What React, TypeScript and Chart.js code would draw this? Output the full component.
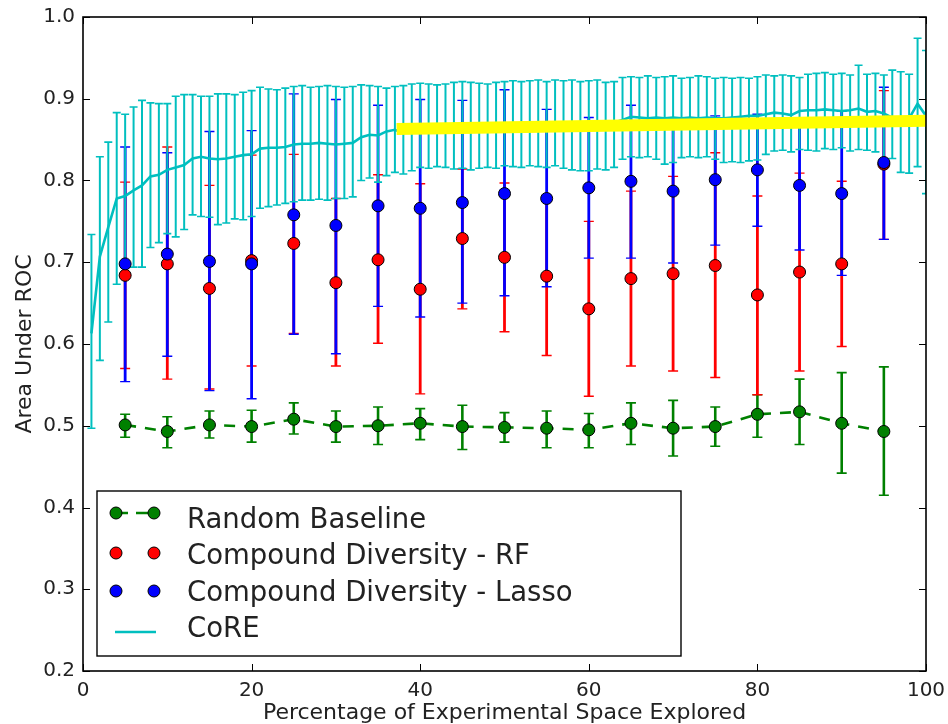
import { useEffect, useRef } from "react";
import { Chart, registerables } from "chart.js";

Chart.register(...registerables);

const FONT = "'DejaVu Sans', 'Liberation Sans', sans-serif";

const sampleX = [5, 10, 15, 20, 25, 30, 35, 40, 45, 50, 55, 60, 65, 70, 75, 80, 85, 90, 95];

const randomMean = [0.501, 0.493, 0.501, 0.499, 0.508, 0.499, 0.5, 0.503, 0.499, 0.498, 0.497, 0.495, 0.503, 0.497, 0.499, 0.514, 0.517, 0.503, 0.493];
const randomHi = [0.514, 0.511, 0.518, 0.519, 0.528, 0.518, 0.523, 0.521, 0.525, 0.516, 0.518, 0.515, 0.528, 0.531, 0.523, 0.538, 0.557, 0.565, 0.572];
const randomLo = [0.486, 0.473, 0.485, 0.48, 0.49, 0.48, 0.477, 0.483, 0.471, 0.48, 0.473, 0.473, 0.477, 0.463, 0.475, 0.486, 0.477, 0.442, 0.415];

const rfMean = [0.684, 0.698, 0.668, 0.702, 0.723, 0.675, 0.703, 0.667, 0.729, 0.706, 0.683, 0.643, 0.68, 0.686, 0.696, 0.66, 0.688, 0.698, 0.82];
const rfHi = [0.798, 0.841, 0.794, 0.831, 0.832, 0.778, 0.807, 0.796, 0.814, 0.797, 0.78, 0.75, 0.787, 0.805, 0.834, 0.781, 0.809, 0.799, 0.91];
const rfLo = [0.57, 0.557, 0.545, 0.573, 0.613, 0.573, 0.601, 0.539, 0.643, 0.615, 0.586, 0.536, 0.573, 0.567, 0.559, 0.538, 0.567, 0.597, 0.728];

const lassoMean = [0.698, 0.71, 0.701, 0.698, 0.758, 0.745, 0.769, 0.766, 0.773, 0.784, 0.778, 0.791, 0.799, 0.787, 0.801, 0.813, 0.794, 0.784, 0.822];
const lassoHi = [0.841, 0.834, 0.86, 0.861, 0.906, 0.899, 0.892, 0.899, 0.898, 0.911, 0.887, 0.877, 0.892, 0.876, 0.879, 0.881, 0.873, 0.885, 0.914];
const lassoLo = [0.554, 0.585, 0.543, 0.533, 0.612, 0.588, 0.646, 0.633, 0.65, 0.659, 0.67, 0.705, 0.705, 0.699, 0.721, 0.744, 0.715, 0.684, 0.728];

const coreX = [
  1, 2, 3, 4, 5, 6, 7, 8, 9, 10, 11, 12, 13, 14, 15, 16, 17, 18, 19, 20,
  21, 22, 23, 24, 25, 26, 27, 28, 29, 30, 31, 32, 33, 34, 35, 36, 37, 38, 39, 40,
  41, 42, 43, 44, 45, 46, 47, 48, 49, 50, 51, 52, 53, 54, 55, 56, 57, 58, 59, 60,
  61, 62, 63, 64, 65, 66, 67, 68, 69, 70, 71, 72, 73, 74, 75, 76, 77, 78, 79, 80,
  81, 82, 83, 84, 85, 86, 87, 88, 89, 90, 91, 92, 93, 94, 95, 96, 97, 98, 99, 100,
];
const coreMean = [
  0.613, 0.707, 0.743, 0.778, 0.781, 0.788, 0.794, 0.805, 0.807, 0.813,
  0.816, 0.819, 0.827, 0.829, 0.827, 0.826, 0.827, 0.829, 0.831, 0.832,
  0.839, 0.84, 0.84, 0.841, 0.844, 0.845, 0.845, 0.846, 0.845, 0.844,
  0.845, 0.846, 0.853, 0.856, 0.855, 0.86, 0.862, 0.858, 0.862, 0.864,
  0.864, 0.865, 0.866, 0.864, 0.866, 0.867, 0.866, 0.867, 0.868, 0.866,
  0.867, 0.868, 0.869, 0.867, 0.868, 0.869, 0.87, 0.868, 0.869, 0.87,
  0.871, 0.87, 0.871, 0.874, 0.878, 0.877, 0.876, 0.877, 0.876, 0.877,
  0.876, 0.877, 0.876, 0.877, 0.876, 0.876, 0.877, 0.878, 0.879, 0.879,
  0.881, 0.883, 0.882, 0.88, 0.885, 0.886, 0.886, 0.887, 0.886, 0.885,
  0.886, 0.888, 0.884, 0.885, 0.882, 0.877, 0.876, 0.876, 0.894, 0.879,
];
const coreHi = [
  0.734, 0.829, 0.847, 0.883, 0.881, 0.89, 0.898, 0.895, 0.894, 0.894,
  0.903, 0.905, 0.905, 0.903, 0.903, 0.906, 0.906, 0.905, 0.908, 0.91,
  0.914, 0.912, 0.911, 0.913, 0.915, 0.916, 0.914, 0.915, 0.916, 0.915,
  0.914, 0.915, 0.917, 0.916, 0.915, 0.913, 0.915, 0.916, 0.918, 0.919,
  0.918, 0.917, 0.918, 0.92, 0.921, 0.92, 0.919, 0.918, 0.92, 0.921,
  0.922, 0.921, 0.922, 0.923, 0.921, 0.923, 0.922, 0.923, 0.921, 0.922,
  0.923, 0.92, 0.921, 0.926, 0.927, 0.926, 0.928, 0.926, 0.927, 0.928,
  0.925, 0.926, 0.928, 0.927, 0.925, 0.926, 0.925, 0.926, 0.925, 0.927,
  0.929, 0.928, 0.929, 0.928, 0.926, 0.93, 0.931, 0.932, 0.93, 0.931,
  0.929, 0.941, 0.93, 0.931, 0.929, 0.935, 0.933, 0.93, 0.974, 0.959,
];
const coreLo = [
  0.497, 0.58, 0.627, 0.673, 0.686, 0.694, 0.694, 0.718, 0.724, 0.735,
  0.731, 0.74, 0.758, 0.756, 0.755, 0.746, 0.748, 0.753, 0.752, 0.756,
  0.766, 0.768, 0.77, 0.772, 0.774, 0.776, 0.776, 0.777, 0.776, 0.778,
  0.778, 0.78, 0.8, 0.803, 0.798, 0.806, 0.81, 0.808, 0.812, 0.816,
  0.815, 0.817, 0.816, 0.814, 0.815, 0.813, 0.815, 0.816, 0.815, 0.818,
  0.817, 0.816, 0.818, 0.817, 0.816, 0.818, 0.815, 0.813, 0.812, 0.812,
  0.814, 0.813, 0.816, 0.826, 0.829, 0.828, 0.829, 0.826, 0.82, 0.822,
  0.828, 0.829, 0.828, 0.829, 0.826, 0.822, 0.823, 0.822, 0.824, 0.825,
  0.832, 0.836, 0.837, 0.835, 0.838, 0.837, 0.836, 0.839, 0.838, 0.84,
  0.836, 0.838, 0.837, 0.835, 0.825, 0.827, 0.81, 0.809, 0.817, 0.784,
];

const highlightX = [37.2, 100];
const highlightY = [0.863, 0.873];

const xTicks = [0, 20, 40, 60, 80, 100];
const yTicks = [0.2, 0.3, 0.4, 0.5, 0.6, 0.7, 0.8, 0.9, 1.0];

const seriesLabels = ["Random Baseline", "Compound Diversity - RF", "Compound Diversity - Lasso", "CoRE"];

const GREEN = "#008000";
const RED = "#ff0000";
const BLUE = "#0000ff";
const CYAN = "#00bfbf";
const YELLOW = "#ffff00";
const TEXT = "#222";

const pts = (xs: number[], ys: number[]) => xs.map((x, i) => ({ x, y: ys[i] }));

export default function App() {
  const ref = useRef<HTMLCanvasElement | null>(null);

  useEffect(() => {
    if (!ref.current) return;

    const drawBars = (chart: any, xs: number[], lo: number[], hi: number[], color: string, lw: number, capHalf: number, capLw: number) => {
      const ctx = chart.ctx;
      const xs_ = chart.scales.x;
      const ys_ = chart.scales.y;
      ctx.save();
      ctx.strokeStyle = color;
      for (let i = 0; i < xs.length; i++) {
        const px = xs_.getPixelForValue(xs[i]);
        const pt = ys_.getPixelForValue(hi[i]);
        const pb = ys_.getPixelForValue(lo[i]);
        ctx.lineWidth = lw;
        ctx.beginPath();
        ctx.moveTo(px, pt);
        ctx.lineTo(px, pb);
        ctx.stroke();
        ctx.lineWidth = capLw;
        ctx.beginPath();
        ctx.moveTo(px - capHalf, pt);
        ctx.lineTo(px + capHalf, pt);
        ctx.moveTo(px - capHalf, pb);
        ctx.lineTo(px + capHalf, pb);
        ctx.stroke();
      }
      ctx.restore();
    };

    const errorBarPlugin = {
      id: "errorBars",
      beforeDatasetsDraw(chart: any) {
        const a = chart.chartArea;
        const ctx = chart.ctx;
        ctx.save();
        ctx.beginPath();
        ctx.rect(a.left, a.top, a.right - a.left, a.bottom - a.top);
        ctx.clip();
        drawBars(chart, sampleX, randomLo, randomHi, GREEN, 2.6, 5, 1.6);
        drawBars(chart, sampleX, rfLo, rfHi, RED, 2.8, 5, 1.4);
        drawBars(chart, sampleX, lassoLo, lassoHi, BLUE, 2.8, 5, 1.4);
        drawBars(chart, coreX, coreLo, coreHi, CYAN, 2, 4, 1.6);
        ctx.restore();
      },
    };

    const framePlugin = {
      id: "frame",
      afterDraw(chart: any) {
        const ctx = chart.ctx;
        const a = chart.chartArea;
        const xs_ = chart.scales.x;
        const ys_ = chart.scales.y;
        ctx.save();
        ctx.strokeStyle = "#000";
        ctx.lineWidth = 1;
        const tl = 7;
        ctx.beginPath();
        for (const v of xTicks) {
          const px = Math.round(xs_.getPixelForValue(v)) + 0.5;
          ctx.moveTo(px, a.bottom);
          ctx.lineTo(px, a.bottom - tl);
          ctx.moveTo(px, a.top);
          ctx.lineTo(px, a.top + tl);
        }
        for (const v of yTicks) {
          const py = Math.round(ys_.getPixelForValue(v)) + 0.5;
          ctx.moveTo(a.left, py);
          ctx.lineTo(a.left + tl, py);
          ctx.moveTo(a.right, py);
          ctx.lineTo(a.right - tl, py);
        }
        ctx.stroke();
        ctx.lineWidth = 1.6;
        ctx.strokeRect(a.left, a.top, a.right - a.left, a.bottom - a.top);

        // legend
        const box = { l: 97, t: 491, r: 681, b: 656 };
        ctx.fillStyle = "#fff";
        ctx.fillRect(box.l, box.t, box.r - box.l, box.b - box.t);
        ctx.lineWidth = 1.4;
        ctx.strokeStyle = "#000";
        ctx.strokeRect(box.l, box.t, box.r - box.l, box.b - box.t);

        const markerRows = [513, 553, 591, 632];
        const textRows = [528, 564, 601, 637];
        const m1 = 116;
        const m2 = 154;
        const dot = (x: number, y: number, c: string) => {
          ctx.beginPath();
          ctx.arc(x, y, 6, 0, Math.PI * 2);
          ctx.fillStyle = c;
          ctx.fill();
          ctx.lineWidth = 1;
          ctx.strokeStyle = "#000";
          ctx.stroke();
        };
        ctx.save();
        ctx.strokeStyle = GREEN;
        ctx.lineWidth = 2.6;
        ctx.setLineDash([12, 8]);
        ctx.beginPath();
        ctx.moveTo(m1, markerRows[0]);
        ctx.lineTo(m2, markerRows[0]);
        ctx.stroke();
        ctx.restore();
        dot(m1, markerRows[0], GREEN);
        dot(m2, markerRows[0], GREEN);
        dot(m1, markerRows[1], RED);
        dot(m2, markerRows[1], RED);
        dot(m1, markerRows[2], BLUE);
        dot(m2, markerRows[2], BLUE);
        ctx.strokeStyle = CYAN;
        ctx.lineWidth = 2.6;
        ctx.beginPath();
        ctx.moveTo(m1 - 1, markerRows[3]);
        ctx.lineTo(m2 + 2, markerRows[3]);
        ctx.stroke();

        ctx.fillStyle = TEXT;
        ctx.font = `27.5px ${FONT}`;
        ctx.textAlign = "left";
        ctx.textBaseline = "alphabetic";
        seriesLabels.forEach((s, i) => ctx.fillText(s, 187, textRows[i]));
        ctx.restore();
      },
    };

    const chart = new Chart(ref.current, {
      type: "line",
      data: {
        datasets: [
          {
            label: "highlight",
            data: pts(highlightX, highlightY),
            borderColor: YELLOW,
            borderWidth: 12,
            pointRadius: 0,
            borderCapStyle: "butt",
            order: 0,
          },
          {
            label: seriesLabels[0],
            data: pts(sampleX, randomMean),
            borderColor: GREEN,
            borderWidth: 2.6,
            borderDash: [11, 9],
            pointRadius: 6,
            pointBackgroundColor: GREEN,
            pointBorderColor: "#000",
            pointBorderWidth: 1,
            order: 1,
          },
          {
            label: seriesLabels[1],
            data: pts(sampleX, rfMean),
            showLine: false,
            pointRadius: 6,
            pointBackgroundColor: RED,
            pointBorderColor: "#000",
            pointBorderWidth: 1,
            order: 2,
          },
          {
            label: seriesLabels[2],
            data: pts(sampleX, lassoMean),
            showLine: false,
            pointRadius: 6,
            pointBackgroundColor: BLUE,
            pointBorderColor: "#000",
            pointBorderWidth: 1,
            order: 1,
          },
          {
            label: seriesLabels[3],
            data: pts(coreX, coreMean),
            borderColor: CYAN,
            borderWidth: 2.6,
            pointRadius: 0,
            order: 5,
          },
        ],
      },
      options: {
        responsive: false,
        animation: false,
        events: [],
        layout: { padding: { left: 0, top: 17, right: 22, bottom: 0 } },
        plugins: { legend: { display: false }, tooltip: { enabled: false } },
        scales: {
          x: {
            type: "linear",
            min: 0,
            max: 100,
            afterFit: (s: any) => {
              s.height = 53;
              s.paddingLeft = 0;
              s.paddingRight = 0;
              s.paddingTop = 0;
              s.paddingBottom = 0;
            },
            afterBuildTicks: (s: any) => {
              s.ticks = xTicks.map((v) => ({ value: v }));
            },
            grid: { display: false, drawTicks: false },
            border: { display: false },
            ticks: {
              padding: 8,
              color: TEXT,
              font: { family: FONT, size: 20 },
              maxRotation: 0,
              callback: (v: any) => String(v),
            },
            title: {
              display: true,
              text: "Percentage of Experimental Space Explored",
              color: TEXT,
              font: { family: FONT, size: 22 },
              padding: { top: 0, bottom: -2 },
            },
          },
          y: {
            type: "linear",
            min: 0.2,
            max: 1.0,
            afterFit: (s: any) => {
              s.width = 83;
              s.paddingLeft = 0;
              s.paddingRight = 0;
              s.paddingTop = 0;
              s.paddingBottom = 0;
            },
            afterBuildTicks: (s: any) => {
              s.ticks = yTicks.map((v) => ({ value: v }));
            },
            grid: { display: false, drawTicks: false },
            border: { display: false },
            ticks: {
              padding: 8,
              color: TEXT,
              font: { family: FONT, size: 20 },
              callback: (v: any) => Number(v).toFixed(1),
            },
            title: {
              display: true,
              text: "Area Under ROC",
              color: TEXT,
              font: { family: FONT, size: 22 },
              padding: { top: 12, bottom: 0 },
            },
          },
        },
      },
      plugins: [errorBarPlugin, framePlugin],
    } as any);

    return () => chart.destroy();
  }, []);

  return (
    <div style={{ position: "absolute", left: 0, top: 0, width: 948, height: 724, background: "#fff" }}>
      <canvas ref={ref} width={948} height={724} style={{ display: "block" }} />
    </div>
  );
}
